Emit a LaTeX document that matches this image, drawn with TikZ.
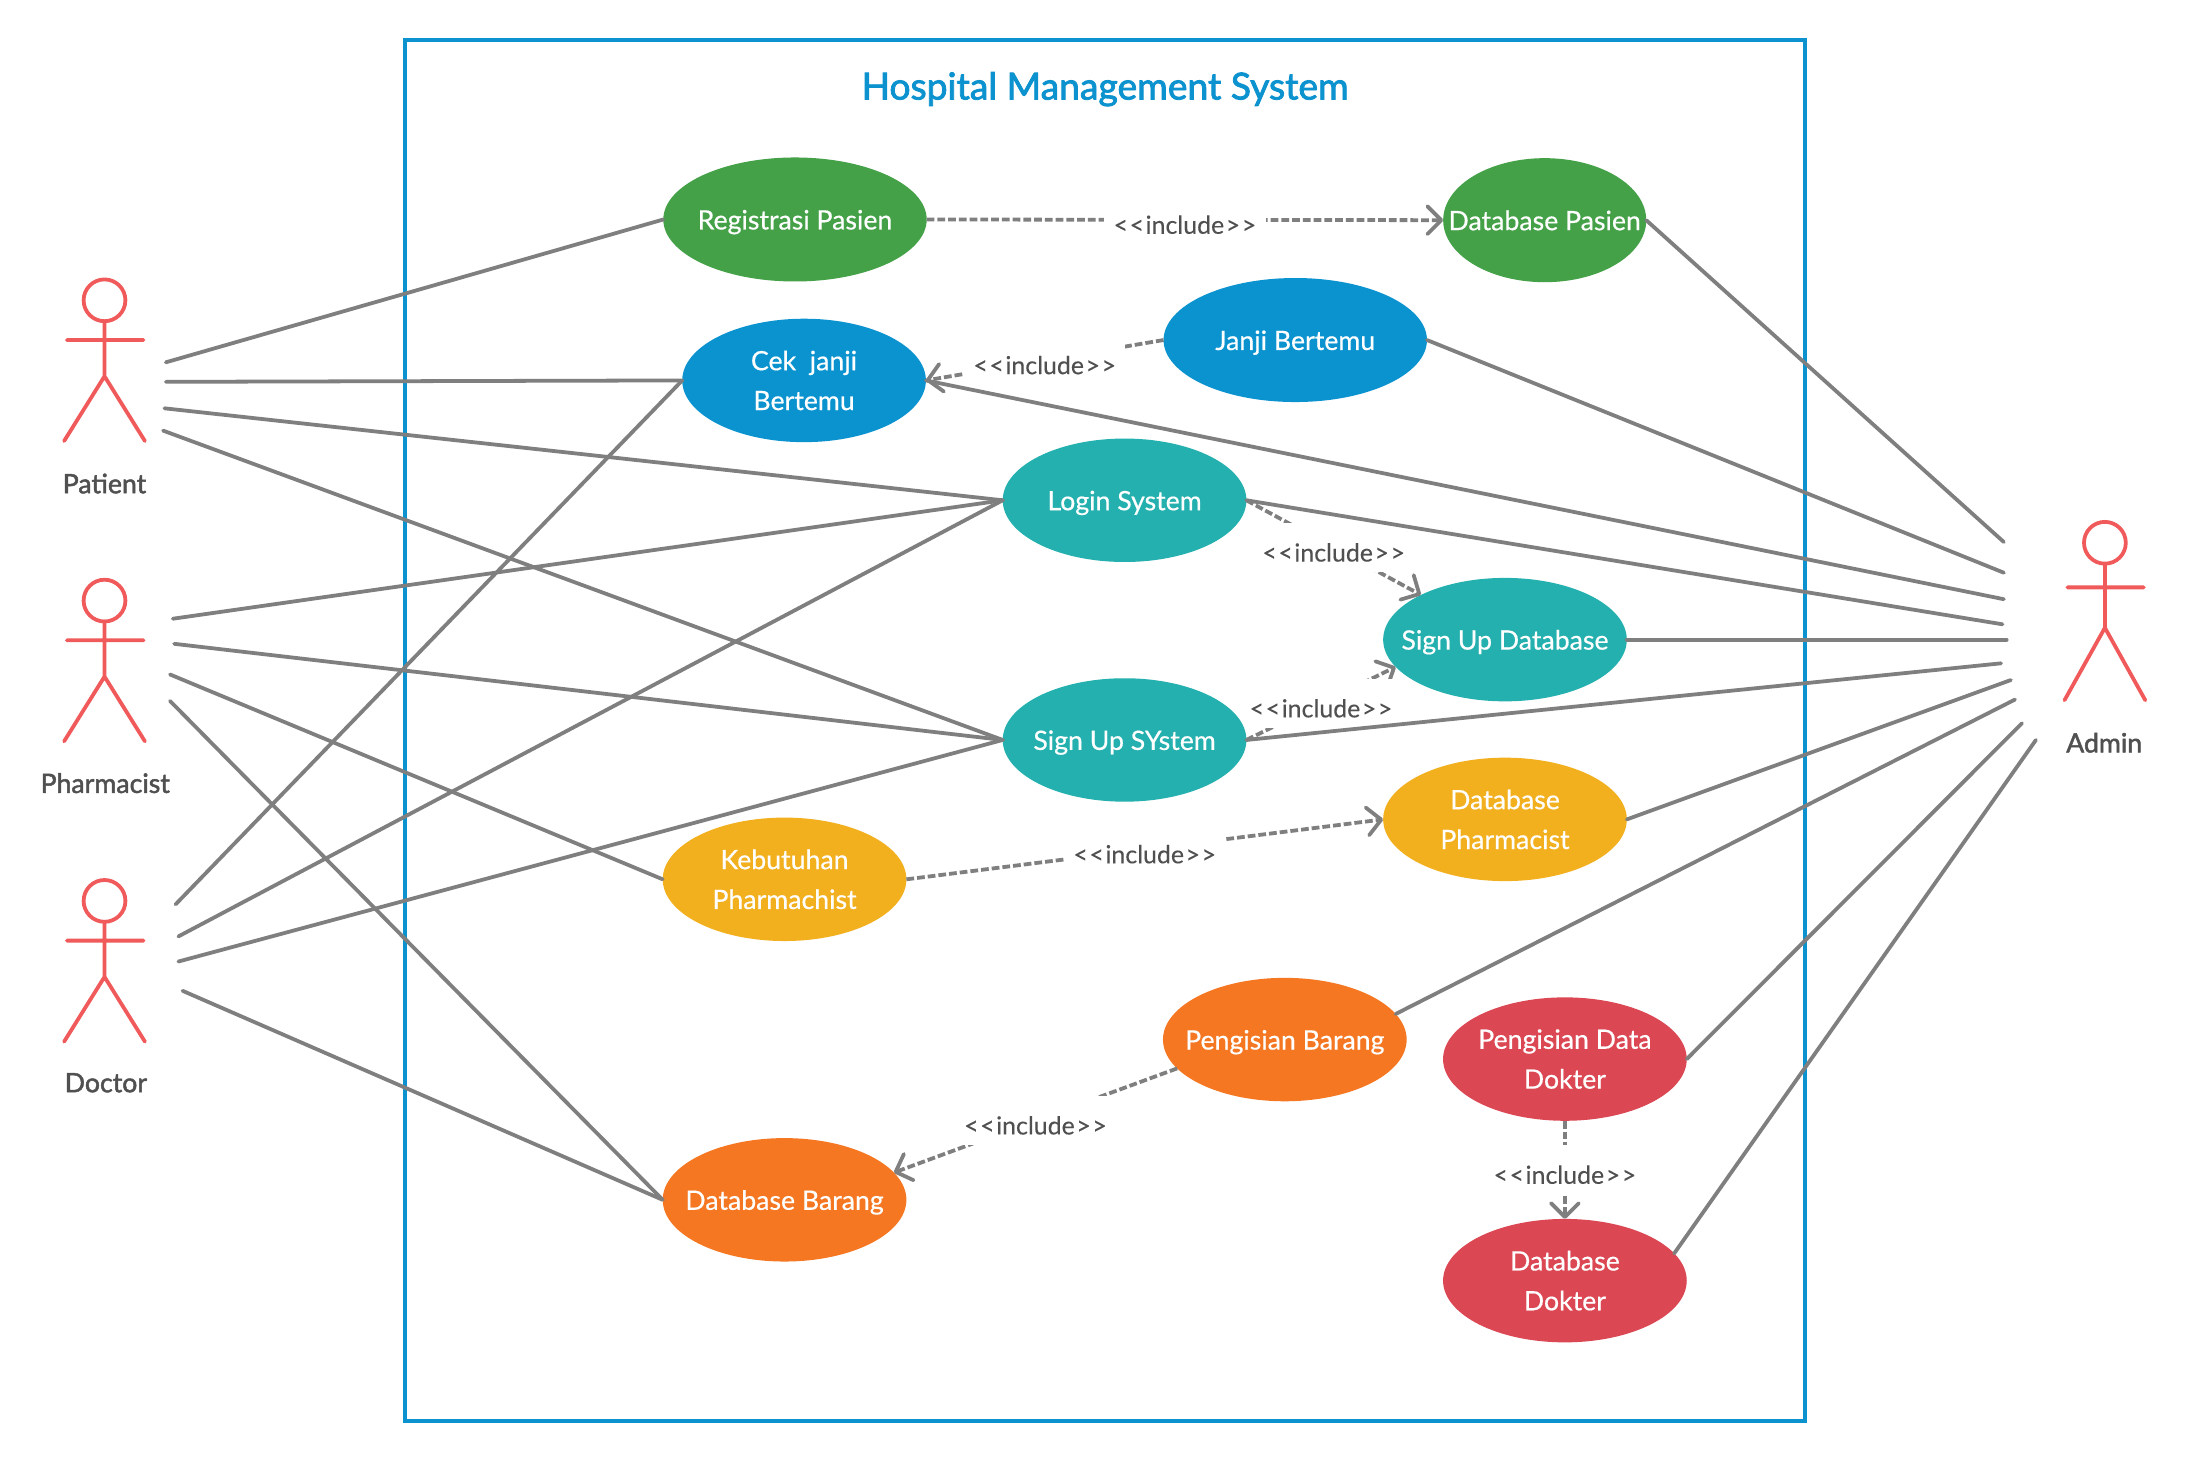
\documentclass[tikz,border=0pt]{standalone}
\usepackage{fontspec}
\setmainfont{Lato}
\usetikzlibrary{shapes.geometric,arrows.meta}
\definecolor{cframe}{HTML}{0C93CF}
\definecolor{cgreen}{HTML}{44A148}
\definecolor{cblue}{HTML}{0B93D0}
\definecolor{cteal}{HTML}{23B0AE}
\definecolor{camber}{HTML}{F2AF1E}
\definecolor{corange}{HTML}{F57722}
\definecolor{cred}{HTML}{DB4753}
\definecolor{cactor}{HTML}{F05A5A}
\definecolor{cline}{HTML}{7F7F7F}
\definecolor{ctext}{HTML}{505050}
\newcommand{\TwoL}[2]{\makebox[0pt]{\vbox{\halign{\hfil##\hfil\cr #1\cr #2\cr}}}}
\newcommand{\OneL}[1]{\raisebox{-5pt}[0pt][0pt]{\makebox[0pt]{#1}}}
\tikzset{
  x=0.7pt,y=-0.7pt,
  uc/.style={ellipse,inner sep=0pt,outer sep=0pt,text=white,minimum width=122.4pt,minimum height=62pt,
    font=\fontsize{13.4pt}{20pt}\selectfont\addfontfeatures{FakeBold=0.5}},
  ucwide/.style={uc,minimum width=132.3pt,minimum height=62.3pt},
  ucnarrow/.style={uc,minimum width=102pt,minimum height=62.3pt},
  assoc/.style={draw=cline,line width=1.9pt,line cap=round},
  incl/.style={draw=cline,line width=1.9pt,dash pattern=on 3.9pt off 1.5pt,
    -{Straight Barb[length=7pt,width=14pt,line width=1.9pt,round]}},
  inclabel/.style={fill=white,inner sep=0pt,minimum width=81pt,minimum height=24.5pt,text=ctext,solid,
    font=\fontsize{12.5pt}{15pt}\selectfont\addfontfeatures{FakeBold=0.15}},
  stick/.style={draw=cactor,line width=1.9pt,line cap=round,line join=round},
  actorname/.style={text=ctext,font=\fontsize{13.4pt}{17pt}\selectfont\addfontfeatures{FakeBold=1.8}},
}
\newcommand{\IncT}{\raisebox{-7pt}[0pt][0pt]{\makebox[0pt]{<\kern0.8pt<\kern0.8pt include\kern0.8pt>\kern0.8pt>}}}
% x, y, arm offset, hip offset, foot offset
\newcommand{\Actor}[5]{%
  \draw[stick] (#1,#2) circle[radius=15];
  \draw[stick] (#1,#2+15) -- (#1,#2+#4)
    (#1-27,#2+#3) -- (#1+28,#2+#3)
    (#1-29,#2+#5) -- (#1,#2+#4) -- (#1+29,#2+#5);
}
\begin{document}
\begin{tikzpicture}
\useasboundingbox (0,0) rectangle (1568,1047.7);
\fill[white] (0,0) rectangle (1568,1047.7);
\node[draw=cframe,line width=1.9pt,inner sep=0pt,minimum width=703.5pt,minimum height=693.7pt] (frame) at (793,524) {};
\node[text=cframe,font=\fontsize{18.7pt}{24pt}\selectfont\addfontfeatures{FakeBold=2.2}] (title) at (793,64) {Hospital Management System};

% use cases
\node[ucwide,fill=cgreen] (reg) at (570.5,157.5) {\OneL{Registrasi Pasien}};
\node[ucnarrow,fill=cgreen] (dbp) at (1108.5,158) {\OneL{Database Pasien}};
\node[uc,fill=cblue] (cek) at (577,273) {\TwoL{Cek\ \ janji}{Bertemu}};
\node[ucwide,fill=cblue] (janji) at (929.5,244) {\OneL{Janji Bertemu}};
\node[uc,fill=cteal] (login) at (807,359) {\OneL{Login System}};
\node[uc,fill=cteal] (sud) at (1080,459) {\OneL{Sign Up Database}};
\node[uc,fill=cteal] (sus) at (807,531) {\OneL{Sign Up SYstem}};
\node[uc,fill=camber] (dbph) at (1080,588) {\TwoL{Database}{Pharmacist}};
\node[uc,fill=camber] (keb) at (563,631) {\TwoL{Kebutuhan}{Pharmachist}};
\node[uc,fill=corange] (pb) at (922,746) {\OneL{Pengisian Barang}};
\node[uc,fill=cred] (pd) at (1123,760) {\TwoL{Pengisian Data}{Dokter}};
\node[uc,fill=corange] (dbb) at (563,861) {\OneL{Database Barang}};
\node[uc,fill=cred] (dbd) at (1123,919) {\TwoL{Database}{Dokter}};

% actors
\Actor{75}{215.5}{28.5}{54.5}{101}
\node[actorname] (patient) at (75,347) {Patient};
\Actor{75}{431}{28.5}{54.5}{101}
\node[actorname] (pharm) at (75.5,562) {Pharmacist};
\Actor{75}{646.5}{28.5}{54.5}{101}
\node[actorname] (doctor) at (76,777) {Doctor};
\Actor{1510.5}{389.5}{32}{61}{113}
\node[actorname] (admin) at (1510,533) {Admin};

% free ends near actors
\coordinate (pa1) at (119,260); \coordinate (pa2) at (119,274); \coordinate (pa3) at (118,293); \coordinate (pa4) at (117,309);
\coordinate (ph1) at (124,444); \coordinate (ph2) at (125,462); \coordinate (ph3) at (122,484); \coordinate (ph4) at (122,503);
\coordinate (do1) at (126,649); \coordinate (do2) at (128,672); \coordinate (do3) at (128,690); \coordinate (do4) at (131,711);
\coordinate (ad1) at (1438,389); \coordinate (ad2) at (1438,411); \coordinate (ad3) at (1438,430); \coordinate (ad4) at (1437,448);
\coordinate (ad5) at (1440,459); \coordinate (ad6) at (1436,476); \coordinate (ad7) at (1443,488); \coordinate (ad8) at (1446,502);
\coordinate (ad9) at (1451,519); \coordinate (ad10) at (1461,531);

% include relations
\draw[incl] (reg.east) -- node[inclabel,pos=.5] {\IncT} (dbp.west);
\draw[incl] (janji.west) -- node[inclabel,pos=.5] {\IncT} (cek.east);
\draw[incl] (login.east) -- node[inclabel,pos=.5] {\IncT} (sud.152);
\draw[incl] (sus.east) -- node[inclabel,pos=.5,minimum width=74pt] {\IncT} (sud.194);
\draw[incl] (keb.east) -- node[inclabel,pos=.5] {\IncT} (dbph.west);
\draw[incl] (pb.195) -- node[inclabel,pos=.5] {\IncT} (dbb.14);
\draw[incl] (pd.south) -- node[inclabel,pos=.5] {\IncT} (dbd.north);

% associations
\draw[assoc] (pa1) -- (reg.west);
\draw[assoc] (pa2) -- (cek.west);
\draw[assoc] (pa3) -- (login.west);
\draw[assoc] (pa4) -- (sus.west);
\draw[assoc] (ph1) -- (login.west);
\draw[assoc] (ph2) -- (sus.west);
\draw[assoc] (ph3) -- (keb.west);
\draw[assoc] (ph4) -- (dbb.west);
\draw[assoc] (do1) -- (cek.west);
\draw[assoc] (do2) -- (login.west);
\draw[assoc] (do3) -- (sus.west);
\draw[assoc] (do4) -- (dbb.west);
\draw[assoc] (ad1) -- (dbp.east);
\draw[assoc] (ad2) -- (janji.east);
\draw[assoc] (ad3) -- (cek.east);
\draw[assoc] (ad4) -- (login.east);
\draw[assoc] (ad5) -- (sud.east);
\draw[assoc] (ad6) -- (sus.east);
\draw[assoc] (ad7) -- (dbph.east);
\draw[assoc] (ad8) -- (pb.13);
\draw[assoc] (ad9) -- (pd.east);
\draw[assoc] (ad10) -- (dbd.14);
\end{tikzpicture}
\end{document}
